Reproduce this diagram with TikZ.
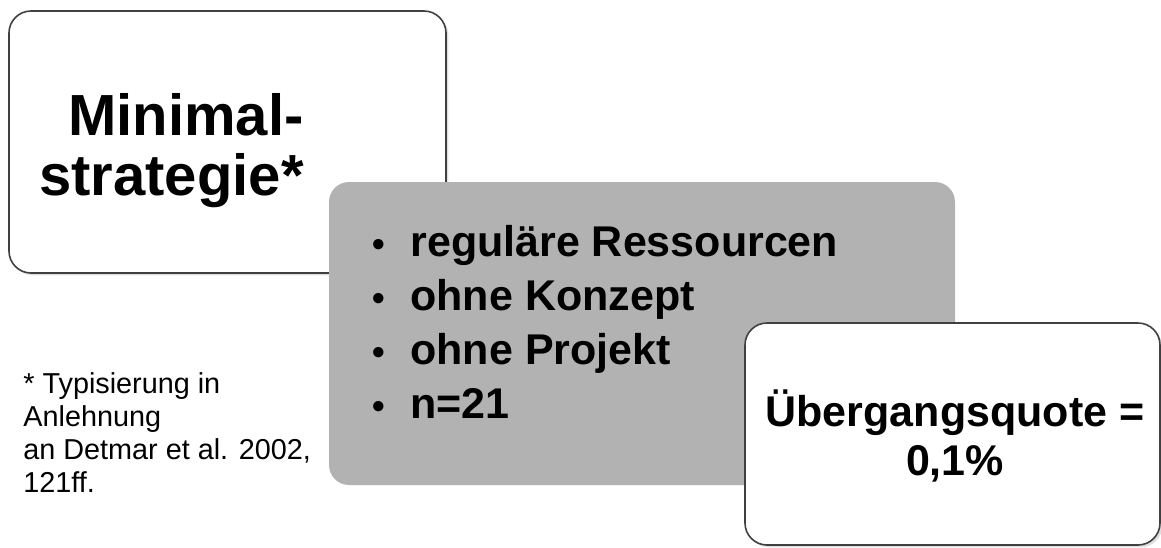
\documentclass[tikz,border=0pt]{standalone}
\usepackage{fontspec}
\setmainfont{Liberation Sans}
\usepackage{tikz}
\usetikzlibrary{shapes}
\usetikzlibrary{shadows}
\usetikzlibrary{positioning}
\tikzset{
    Box/.style = {rectangle, draw=black!75, line width=0.8pt, fill=white, rounded corners=11pt, drop shadow={opacity=0.25, shadow xshift=1.2pt, shadow yshift=-1.2pt}}
}
\tikzset{
    GrayBox/.style = {rectangle, fill=gray!60, rounded corners=10pt}
}
\newcommand{\bul}{\makebox[19pt][l]{\fontsize{18}{18}\selectfont\textbullet}}

\begin{document}
\begin{tikzpicture}[
    x=0.5pt, y=-0.5pt,
    font=\bfseries
]
\tikzset{
    Txt/.style = {inner sep=0pt, text=black},
}
\useasboundingbox (0,0) rectangle (1161,547);

\node[Box, minimum width=218.5pt, minimum height=131pt] at (227.5,142) (strategy) {};
\node[GrayBox, minimum width=313pt, minimum height=151.5pt] at (642,333.5) (facts) {};
\node[Box, minimum width=207.5pt, minimum height=111pt] at (952.5,434) (quote) {};

\node[Txt, anchor=north east, align=right, font=\fontsize{29}{30}\selectfont\bfseries] at (304,93) (title) {Minimal-\\strategie*};
\node[Txt, anchor=north west, align=left, font=\fontsize{21.5}{27}\selectfont\bfseries] at (372,225) (list) {\bul reguläre Ressourcen\\\bul ohne Konzept\\\bul ohne Projekt\\\bul n=21};
\node[Txt, anchor=north, align=center, font=\fontsize{21.5}{24.5}\selectfont\bfseries] at (955,389) (rate) {Übergangsquote =\\0,1\%};
\node[Txt, anchor=north west, align=left, font=\fontsize{14.4}{16.5}\selectfont] at (23,372) (note) {* Typisierung in\\Anlehnung\\an Detmar et al. 2002,\\121ff.};
\end{tikzpicture}
\end{document}
